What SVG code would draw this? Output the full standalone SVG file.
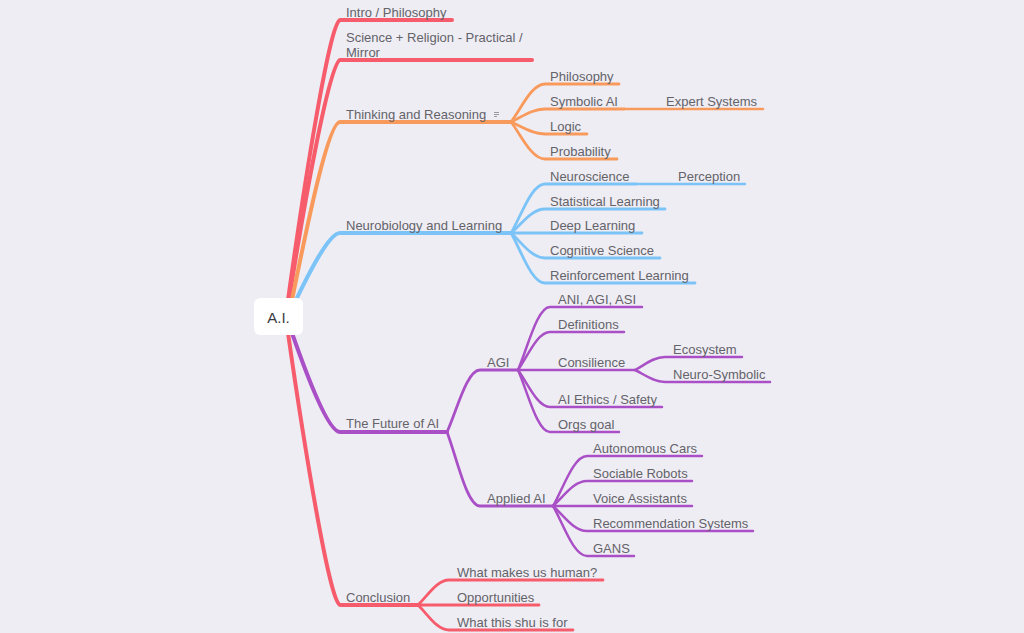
<svg xmlns="http://www.w3.org/2000/svg" width="1024" height="633" viewBox="0 0 1024 633">
<style>
.t{font-family:"Liberation Sans",Arial,sans-serif;font-size:13px;fill:#636369}
.c{fill:none;stroke-linecap:round;stroke-linejoin:round}
.r{stroke:#f65c6b}.o{stroke:#f99a5d}.b{stroke:#7cc4f8}.p{stroke:#aa50c6}
.w1{stroke-width:4}.w2{stroke-width:2.8}.w3{stroke-width:2.5}
</style>
<rect width="1024" height="633" fill="#efedf4"/>
<g id="connectors">
<path class="c r w1" d="M288 300 C303.6 188 330 20 340 20 H452"/>
<path class="c r w1" d="M289 300 C304 204 330 60 340 60 H532"/>
<path class="c o w1" d="M292 300 C306.4 229 328 122 340 122 H511"/>
<path class="c b w1" d="M296 300 C309 273 329 233 340 233 H511"/>
<path class="c p w1" d="M292 333 C306 373 328 432 340 432 H447"/>
<path class="c r w1" d="M288 333 C303.6 442 330 605 340 605 H418"/>
<path class="c o w2" d="M511 122 C521.2 108.7 531.4 84 545 84 H619"/>
<path class="c o w2" d="M511 122 C521.2 117.5 531.4 109 545 109 H624"/>
<path class="c o w3" d="M624 109 H763"/>
<path class="c o w2" d="M511 122 C521.2 126.2 531.4 134 545 134 H587"/>
<path class="c o w2" d="M511 122 C521.2 135 531.4 159 545 159 H617"/>
<path class="c b w2" d="M511 233 C521.2 215.9 531.4 184 545 184 H636"/>
<path class="c b w3" d="M636 184 H745"/>
<path class="c b w2" d="M511 233 C521.2 224.6 531.4 209 545 209 H665"/>
<path class="c b w2" d="M511 233 H642"/>
<path class="c b w2" d="M511 233 C521.2 241.8 531.4 258 545 258 H660"/>
<path class="c b w2" d="M511 233 C521.2 250.5 531.4 283 545 283 H695"/>
<path class="c p w2" d="M447 432 C456.9 410.3 466.8 370 480 370 H518"/>
<path class="c p w2" d="M447 432 C456.9 457.9 466.8 506 480 506 H553"/>
<path class="c p w3" d="M518 370 C527.6 348 537.2 307 550 307 H642"/>
<path class="c p w3" d="M518 370 C527.6 356.7 537.2 332 550 332 H624"/>
<path class="c p w3" d="M518 370 H635"/>
<path class="c p w3" d="M518 370 C527.6 383 537.2 407 550 407 H662"/>
<path class="c p w3" d="M518 370 C527.6 391.7 537.2 432 550 432 H619"/>
<path class="c p w3" d="M635 370 C644 365.5 653 357 665 357 H742"/>
<path class="c p w3" d="M635 370 C644 374.2 653 382 665 382 H770"/>
<path class="c p w3" d="M553 506 C563.2 488.5 573.4 456 587 456 H702"/>
<path class="c p w3" d="M553 506 C563.2 497.2 573.4 481 587 481 H692"/>
<path class="c p w3" d="M553 506 H692"/>
<path class="c p w3" d="M553 506 C563.2 514.8 573.4 531 587 531 H753"/>
<path class="c p w3" d="M553 506 C563.2 523.5 573.4 556 587 556 H634"/>
<path class="c r w2" d="M418 605 C427.3 596.2 436.6 580 449 580 H603"/>
<path class="c r w2" d="M418 605 H539"/>
<path class="c r w2" d="M418 605 C427.3 613.8 436.6 630 449 630 H573"/>
</g>
<g id="root">
<rect x="254" y="298" width="49" height="37" rx="6" fill="#ffffff"/>
<text x="278.5" y="323" text-anchor="middle" style="font-family:'Liberation Sans',Arial,sans-serif;font-size:15px;fill:#3a3a3e">A.I.</text>
</g>
<g id="intro"><text class="t" x="346" y="17">Intro / Philosophy</text></g>
<g id="science"><text class="t" x="346" y="42">Science + Religion - Practical /</text><text class="t" x="346" y="57">Mirror</text></g>
<g id="thinking"><text class="t" x="346" y="119">Thinking and Reasoning</text>
<g stroke="#9a9aa0" stroke-width="1"><line x1="494" y1="112.5" x2="499" y2="112.5"/><line x1="494" y1="114.5" x2="499" y2="114.5"/><line x1="494" y1="116.5" x2="497" y2="116.5"/></g></g>
<g id="philosophy"><text class="t" x="550" y="81">Philosophy</text></g>
<g id="symbolic"><text class="t" x="550" y="106">Symbolic AI</text></g>
<g id="expert"><text class="t" x="666" y="106">Expert Systems</text></g>
<g id="logic"><text class="t" x="550" y="131">Logic</text></g>
<g id="probability"><text class="t" x="550" y="156">Probability</text></g>
<g id="neurobiology"><text class="t" x="346" y="230">Neurobiology and Learning</text></g>
<g id="neuroscience"><text class="t" x="550" y="181">Neuroscience</text></g>
<g id="perception"><text class="t" x="678" y="181">Perception</text></g>
<g id="statistical"><text class="t" x="550" y="206">Statistical Learning</text></g>
<g id="deep"><text class="t" x="550" y="230">Deep Learning</text></g>
<g id="cognitive"><text class="t" x="550" y="255">Cognitive Science</text></g>
<g id="reinforcement"><text class="t" x="550" y="280">Reinforcement Learning</text></g>
<g id="future"><text class="t" x="346" y="428">The Future of AI</text></g>
<g id="agi"><text class="t" x="487" y="367">AGI</text></g>
<g id="ani"><text class="t" x="558" y="304">ANI, AGI, ASI</text></g>
<g id="definitions"><text class="t" x="558" y="329">Definitions</text></g>
<g id="consilience"><text class="t" x="558" y="367">Consilience</text></g>
<g id="ecosystem"><text class="t" x="673" y="354">Ecosystem</text></g>
<g id="neurosymbolic"><text class="t" x="673" y="379">Neuro-Symbolic</text></g>
<g id="ethics"><text class="t" x="558" y="404">AI Ethics / Safety</text></g>
<g id="orgs"><text class="t" x="558" y="429">Orgs goal</text></g>
<g id="applied"><text class="t" x="487" y="503">Applied AI</text></g>
<g id="cars"><text class="t" x="593" y="453">Autonomous Cars</text></g>
<g id="robots"><text class="t" x="593" y="478">Sociable Robots</text></g>
<g id="voice"><text class="t" x="593" y="503">Voice Assistants</text></g>
<g id="recommendation"><text class="t" x="593" y="528">Recommendation Systems</text></g>
<g id="gans"><text class="t" x="593" y="553">GANS</text></g>
<g id="conclusion"><text class="t" x="346" y="602">Conclusion</text></g>
<g id="human"><text class="t" x="457" y="577">What makes us human?</text></g>
<g id="opportunities"><text class="t" x="457" y="602">Opportunities</text></g>
<g id="shu"><text class="t" x="457" y="627">What this shu is for</text></g>
</svg>
